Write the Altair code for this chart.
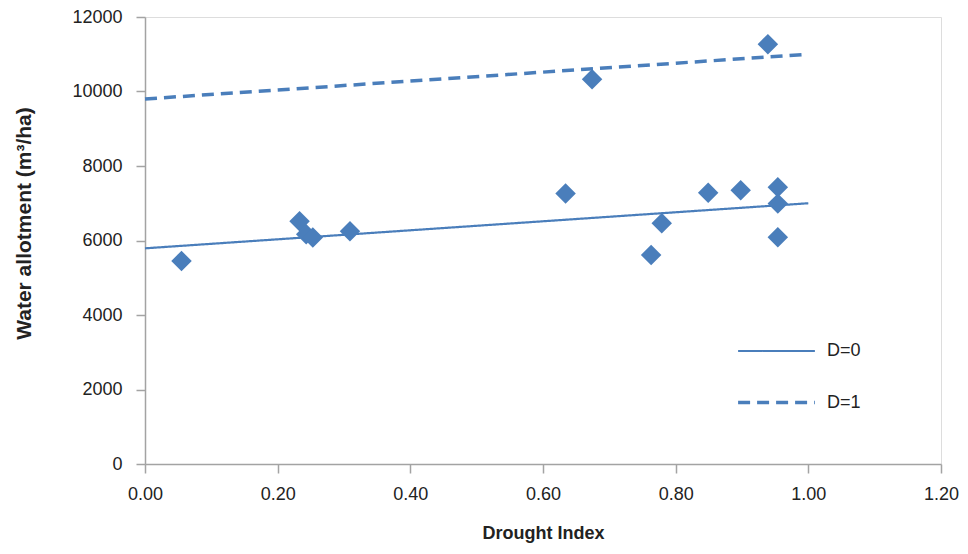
import altair as alt
import pandas as pd

# Observations (Drought Index, water allotment m3/ha)
drought_index = [0.055, 0.233, 0.243, 0.253, 0.309, 0.634, 0.763, 0.779,
                 0.849, 0.898, 0.954, 0.954, 0.954, 0.674, 0.939]
allotment = [5450, 6520, 6170, 6080, 6250, 7260, 5610, 6460,
             7280, 7350, 7430, 6990, 6090, 10330, 11270]

# Fitted lines
fit_x = [0.0, 1.0]
fit_d0 = [5790, 7000]
fit_d1 = [9800, 11000]
series_names = ["D=0", "D=1"]

x_ticks = [0.0, 0.2, 0.4, 0.6, 0.8, 1.0, 1.2]
y_ticks = [0, 2000, 4000, 6000, 8000, 10000, 12000]

BLUE = "#4A7EBB"
AXIS_GREY = "#A3A3A3"
FONT = "Liberation Sans"

pts = pd.DataFrame({"x": drought_index, "y": allotment})
lines = pd.DataFrame({
    "x": fit_x + fit_x,
    "y": fit_d0 + fit_d1,
    "D": [series_names[0]] * 2 + [series_names[1]] * 2,
})

xscale = alt.Scale(domain=[0, 1.2], nice=False, zero=False)
yscale = alt.Scale(domain=[0, 12000], nice=False)

xaxis = alt.Axis(
    title="Drought Index", values=x_ticks, format=".2f", grid=False,
    domainColor=AXIS_GREY, domainWidth=1.5, tickColor=AXIS_GREY, tickWidth=1.5,
    tickSize=9, labelFontSize=18, labelPadding=12, labelColor="#222222",
    titleFontSize=18, titleFontWeight="bold", titlePadding=21, titleColor="#222222",
    labelFlush=False,
)
yaxis = alt.Axis(
    title="Water allotment (m³/ha)", values=y_ticks, format="d", grid=False,
    domainColor=AXIS_GREY, domainWidth=1.5, tickColor=AXIS_GREY, tickWidth=1.5,
    tickSize=9, labelFontSize=18, labelPadding=14, labelColor="#222222",
    titleFontSize=21, titleFontWeight="bold", titlePadding=37, titleColor="#222222",
    titleY=206, labelFlush=False,
)

line_layer = alt.Chart(lines).mark_line(color=BLUE).encode(
    x=alt.X("x:Q", scale=xscale, axis=xaxis),
    y=alt.Y("y:Q", scale=yscale, axis=yaxis),
    strokeDash=alt.StrokeDash(
        "D:N",
        scale=alt.Scale(domain=series_names, range=[[1, 0], [12, 7]]),
        legend=alt.Legend(
            title=None, orient="none", legendX=591, legendY=294,
            symbolType="stroke", symbolSize=5900, symbolStrokeWidth=3,
            symbolStrokeColor=BLUE, labelFontSize=18, labelColor="#222222",
            labelOffset=10, rowPadding=2, padding=0,
        ),
    ),
    strokeWidth=alt.StrokeWidth(
        "D:N", scale=alt.Scale(domain=series_names, range=[2.2, 3.5]), legend=None
    ),
)

point_layer = alt.Chart(pts).mark_point(
    shape="diamond", filled=True, size=420, color=BLUE, opacity=1
).encode(
    x=alt.X("x:Q", scale=xscale),
    y=alt.Y("y:Q", scale=yscale),
)

chart = alt.layer(line_layer, point_layer).properties(
    width=796, height=447,
    autosize=alt.AutoSizeParams(type="none"),
    padding={"left": 137, "top": 9, "right": 18, "bottom": 82},
).configure_view(stroke=None).configure(font=FONT)

chart.save("out.html", embed_options={"renderer": "svg", "actions": False})
